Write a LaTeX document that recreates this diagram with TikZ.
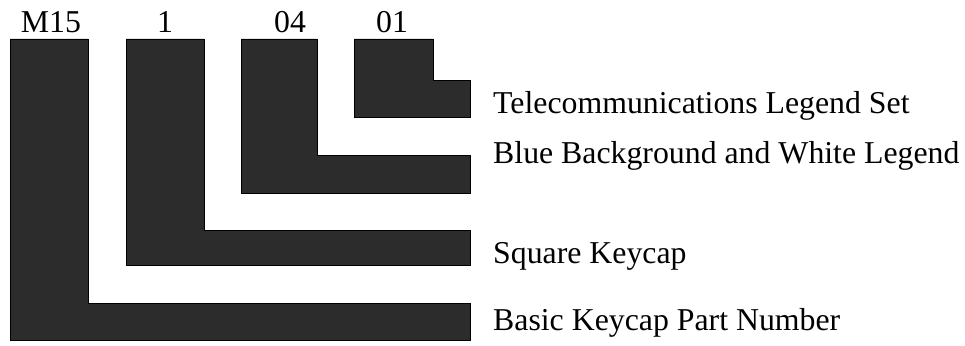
\documentclass[tikz,border=0pt]{standalone}
\usepackage{fontspec}
\setmainfont{Liberation Serif}
\definecolor{capfill}{RGB}{44,44,44}
\begin{document}
\begin{tikzpicture}[x=1pt,y=-1pt,
  capshape/.style={fill=capfill,draw=black,line width=0.8pt},
  toplabel/.style={font=\fontsize{31.8}{32}\selectfont,anchor=base,inner sep=0pt},
  sidelabel/.style={font=\fontsize{31.8}{32}\selectfont,anchor=base west,inner sep=0pt}]
\useasboundingbox (0,0) rectangle (965,345);
% L-shapes
\path[capshape] (10,39) -- (88,39) -- (88,303) -- (470,303) -- (470,340) -- (10,340) -- cycle;
\path[capshape] (126,39) -- (204,39) -- (204,230) -- (470,230) -- (470,265) -- (126,265) -- cycle;
\path[capshape] (241,39) -- (317,39) -- (317,155) -- (470,155) -- (470,193) -- (241,193) -- cycle;
\path[capshape] (354,39) -- (433,39) -- (433,80) -- (470,80) -- (470,117) -- (354,117) -- cycle;
% top labels
\node[toplabel] (m15) at (51,33) {M15};
\node[toplabel] (one) at (165,33) {1};
\node[toplabel] (zerofour) at (290,33) {04};
\node[toplabel] (zeroone) at (392,33) {01};
% side labels
\node[sidelabel] (tele) at (493,113) {Telecommunications Legend Set};
\node[sidelabel] (blue) at (493,163) {Blue Background and White Legend};
\node[sidelabel] (square) at (493,263) {Square Keycap};
\node[sidelabel] (basic) at (493,330) {Basic Keycap Part Number};
\end{tikzpicture}
\end{document}
